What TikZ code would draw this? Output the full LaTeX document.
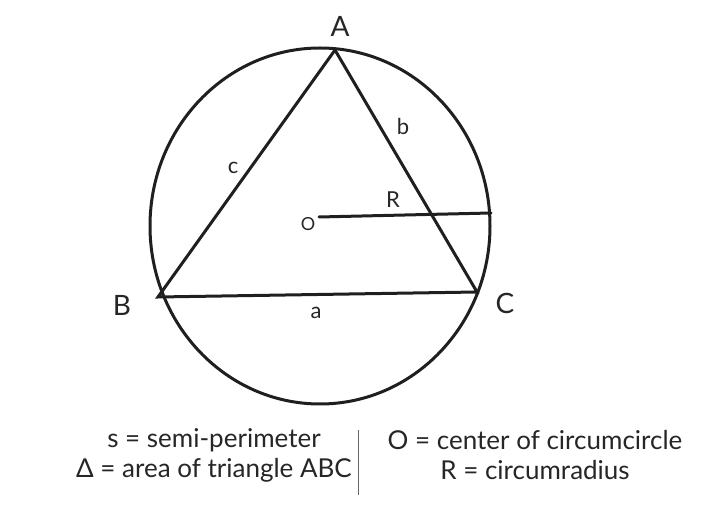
\documentclass[tikz,border=0pt]{standalone}
\usepackage{fontspec}
\setmainfont{Lato}
\usepackage{tikz}
\usetikzlibrary{positioning}

\begin{document}
\begin{tikzpicture}[x=1pt, y=-1pt,
  edge/.style={draw=black!88, line width=3pt, line cap=round},
  vtx/.style={font=\fontsize{28}{30}\selectfont, text=black!85},
  side/.style={font=\fontsize{22}{24}\selectfont, text=black!85},
  legend/.style={font=\fontsize{26}{30}\selectfont, text=black!85, align=center}
]
\useasboundingbox (0,0) rectangle (702,510);
\coordinate (O) at (320,226);
\coordinate (A) at (335,50);
\coordinate (B) at (158,297);
\coordinate (C) at (477,292);
\coordinate (Ro) at (319,217);
\coordinate (Re) at (491,213);
\draw[edge] (O) ellipse[x radius=170pt, y radius=178pt];
\draw[edge] (A) -- (B) -- (C) -- cycle;
\draw[edge] (Ro) -- (Re);
\node[vtx] (lA) at (340,26) {A};
\node[vtx] (lB) at (122,305) {B};
\node[vtx] (lC) at (505,303) {C};
\node[side] (la) at (316,313) {a};
\node[side] (lb) at (403,126) {b};
\node[side] (lc) at (233,168) {c};
\node[side] (lR) at (393,200) {R};
\node[font=\fontsize{18}{20}\selectfont, text=black!85] (lO) at (308,224) {O};
\node[legend] (left) at (214,455) {s = semi-perimeter\\Δ = area of triangle ABC};
\node[legend] (right) at (535,455) {O = center of circumcircle\\R = circumradius};
\draw[draw=black!60, line width=1pt] (358,430) -- (358,495);
\end{tikzpicture}
\end{document}
